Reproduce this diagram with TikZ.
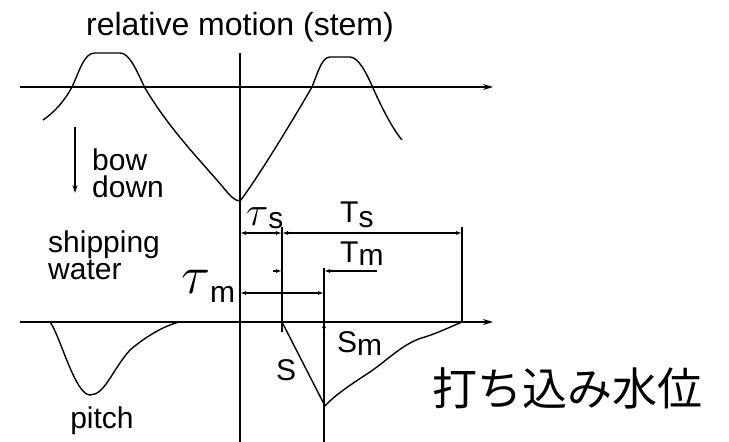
\documentclass[tikz,border=0pt]{standalone}
\usepackage{graphicx}
\usepackage{fontspec}
\setsansfont{Liberation Sans}
\newfontfamily\cjk{Noto Sans CJK JP}
\usetikzlibrary{arrows.meta}
\tikzset{
  axis/.style   = {line width=1.3pt, -{Stealth[length=10pt,width=6pt]}},
  guide/.style  = {line width=1.2pt},
  curve/.style  = {line width=1.4pt, line join=round},
  dim/.style    = {line width=1.2pt, {Latex[length=6pt,width=4pt]}-{Latex[length=6pt,width=4pt]}},
  hdim/.style   = {line width=1.2pt, -{Latex[length=6pt,width=4pt]}},
  lbl/.style    = {font=\sffamily\fontsize{30}{27}\selectfont, inner sep=0pt, align=left},
}
\newcommand{\bigtau}[1]{{\fontsize{20}{20}\selectfont\scalebox{#1}{$\tau$}}}
\newcommand{\lowsub}[2]{\raisebox{-#1}{#2}}

\begin{document}
\begin{tikzpicture}[x=1pt,y=-1pt]
  \useasboundingbox (0,0) rectangle (729,442);
  % axes and guide lines
  \coordinate (a1) at (20,87);   \coordinate (b1) at (493,87);
  \coordinate (a2) at (20,322);  \coordinate (b2) at (493,322);
  \coordinate (v0t) at (240,53);  \coordinate (v0b) at (240,442);
  \coordinate (v1t) at (282,227); \coordinate (v1b) at (282,332);
  \coordinate (v2t) at (324,268); \coordinate (v2b) at (324,442);
  \coordinate (v3t) at (462,227); \coordinate (v3b) at (462,322);
  \draw[axis] (a1)--(b1);
  \draw[axis] (a2)--(b2);
  \draw[guide] (v0t)--(v0b);
  \draw[guide] (v1t)--(v1b);
  \draw[guide] (v2t)--(v2b);
  \draw[guide] (v3t)--(v3b);
  % relative motion
  \draw[curve] (43,120)..controls(55,112)and(65,100)..(72,87)
    ..controls(80,70)and(84,53)..(95,53)--(120,53)
    ..controls(130,53)and(137,72)..(145,88)
    ..controls(170,130)and(200,160)..(222,186)
    ..controls(230,196)and(235,201)..(240,201)
    ..controls(255,182)and(290,125)..(312,87)
    ..controls(318,72)and(322,57)..(330,57)--(350,57)
    ..controls(358,57)and(366,72)..(373,88)
    ..controls(382,108)and(392,128)..(402,140);
  % pitch and shipping water
  \draw[curve] (50,322)..controls(60,335)and(75,395)..(90,395)
    ..controls(105,395)and(112,370)..(130,350)
    ..controls(145,337)and(165,325)..(180,322);
  \draw[curve] (282,322)--(325,406)
    ..controls(335,395)and(350,385)..(370,372)
    ..controls(390,358)and(405,342)..(425,337)
    ..controls(440,332)and(450,327)..(462,322);
  % bow down arrow
  \coordinate (bw0) at (75,127); \coordinate (bw1) at (75,193);
  \draw[line width=1.2pt,-{Stealth[length=8pt,width=5pt]}] (bw0)--(bw1);
  % dimensions
  \coordinate (ts0) at (240,233); \coordinate (ts1) at (282,233); \coordinate (ts2) at (462,233);
  \coordinate (tm0) at (240,293); \coordinate (tm1) at (324,293);
  \coordinate (Tma) at (273,271); \coordinate (Tmb) at (282,271);
  \coordinate (Tmc) at (377,271); \coordinate (Tmd) at (324,271);
  \coordinate (smb) at (324,406); \coordinate (sma) at (324,322);
  \draw[dim] (ts0)--(ts1);
  \draw[dim] (ts1)--(ts2);
  \draw[dim] (tm0)--(tm1);
  \draw[hdim] (Tma)--(Tmb);
  \draw[hdim] (Tmc)--(Tmd);
  \draw[hdim] (smb)--(sma);
  % labels
  \node[lbl, anchor=base, font=\sffamily\fontsize{32}{32}\selectfont] (title) at (240,35) {relative motion (stem)};
  \node[lbl, anchor=base west] (bowlbl) at (92,197) {bow\\down};
  \node[lbl, anchor=base west] (shiplbl) at (48,279) {shipping\\water};
  \node[lbl, anchor=base] (pitchlbl) at (102,428) {pitch};
  \node[lbl, anchor=base west] (taus) at (246,225) {\bigtau{2}\lowsub{3pt}{s}};
  \node[lbl, anchor=base west] (Tslbl) at (340,222) {T\lowsub{5pt}{s}};
  \node[lbl, anchor=base west] (Tmlbl) at (340,262) {T\lowsub{3pt}{m}};
  \node[lbl, anchor=base west] (taum) at (181,293) {\bigtau{2.6}\lowsub{9pt}{m}};
  \node[lbl, anchor=base west] (slbl) at (276,380) {S};
  \node[lbl, anchor=base west] (smlbl) at (337,352) {S\lowsub{3pt}{m}};
  \node[inner sep=0pt, font=\cjk\fontsize{45}{45}\selectfont] (jplbl) at (567,388) {打ち込み水位};
\end{tikzpicture}
\end{document}
